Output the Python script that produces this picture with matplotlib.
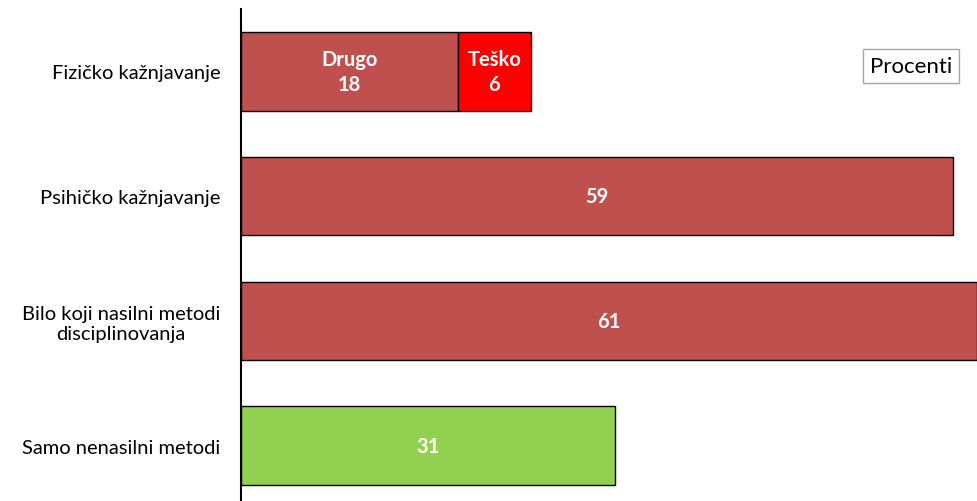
import matplotlib
matplotlib.use("Agg")
import matplotlib.pyplot as plt

categories = ["Fizičko kažnjavanje", "Psihičko kažnjavanje",
              "Bilo koji nasilni metodi\ndisciplinovanja", "Samo nenasilni metodi"]
main_values = [18, 59, 61, 31]
severe_value = 6          # "Teško" part of physical punishment
main_colors = ["#C0504D", "#C0504D", "#C0504D", "#92D050"]

plt.rcParams["font.family"] = ["Lato", "DejaVu Sans"]

fig = plt.figure(figsize=(9.77, 5.02), dpi=100)
ax = fig.add_axes([241 / 977, 0, 736 / 977, 492 / 502])

ypos = list(range(len(categories)))
ax.barh(ypos, main_values, height=0.63, color=main_colors,
        edgecolor="black", linewidth=1)
ax.barh(0, severe_value, left=main_values[0], height=0.63, color="#FF0000",
        edgecolor="black", linewidth=1)

# labels inside bars
ax.text(main_values[0] / 2, 0, f"Drugo\n{main_values[0]}", ha="center", va="center",
        color="white", fontsize=14.5, fontweight="bold", linespacing=1.35)
ax.text(main_values[0] + severe_value / 2, 0, f"Teško\n{severe_value}", ha="center",
        va="center", color="white", fontsize=14.5, fontweight="bold", linespacing=1.35)
for y, v in zip(ypos[1:], main_values[1:]):
    ax.text(v / 2, y, str(v), ha="center", va="center", color="white",
            fontsize=14.5, fontweight="bold")

ax.set_xlim(0, 61)
ax.set_ylim(3.445, -0.5)
ax.set_yticks(ypos)
ax.set_yticklabels(categories, fontsize=14.5, multialignment="center")
ax.tick_params(axis="y", length=0, pad=15)
ax.set_xticks([])
for s in ["top", "right", "bottom"]:
    ax.spines[s].set_visible(False)
ax.spines["left"].set_linewidth(1.5)

fig.text(911 / 977, 1 - 67 / 502, "Procenti", ha="center", va="center", fontsize=16,
         bbox=dict(boxstyle="square,pad=0.3", facecolor="white", edgecolor="#A6A6A6"))

fig.savefig("out.png", dpi=100)
